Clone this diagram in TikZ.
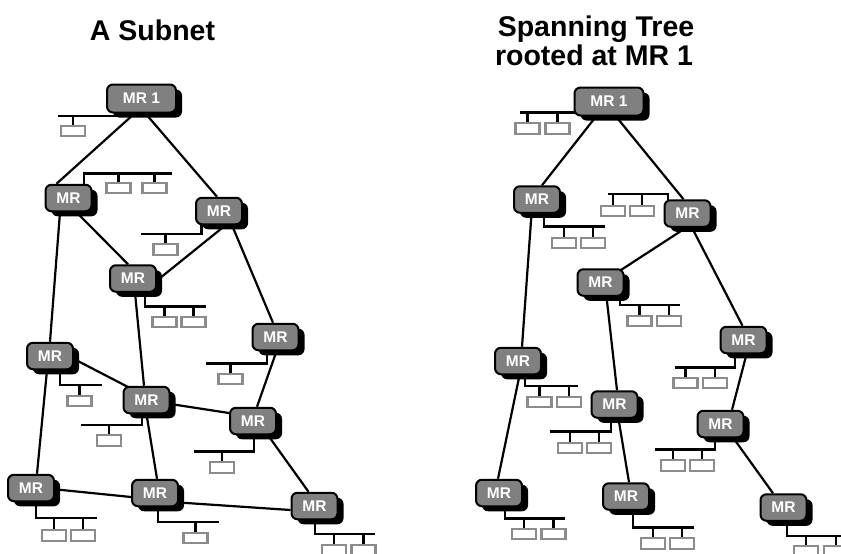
\documentclass[tikz,border=0pt]{standalone}
\usepackage{fontspec}
\setmainfont{Liberation Sans}
\usetikzlibrary{shadows}
\pgfdeclarelayer{background}
\pgfsetlayers{background,main}
\tikzset{
  router/.style={rounded corners=6pt, draw=black, line width=2pt, fill=routergray,
    minimum width=46pt, minimum height=26.5pt, inner sep=0pt, text=white,
    font=\bfseries\fontsize{15.5}{17}\selectfont,
    drop shadow={shadow xshift=6pt, shadow yshift=-5pt, fill=black, opacity=1}},
  rootrouter/.style={router, minimum width=69pt, minimum height=28pt},
  host/.style={draw=hostgray, line width=2.2pt, fill=white, minimum width=24pt,
    minimum height=10.5pt, inner sep=0pt},
  link/.style={draw=black, line width=2.2pt},
  lan/.style={draw=black, line width=2.7pt},
  heading/.style={font=\bfseries\fontsize{28.5}{32}\selectfont, anchor=base, inner sep=0pt}
}
\definecolor{routergray}{RGB}{128,128,128}
\definecolor{hostgray}{RGB}{140,140,140}
\begin{document}
\begin{tikzpicture}[x=1pt, y=-1pt]
\useasboundingbox (0,0) rectangle (841,554);

% ---------- headings ----------
\node[heading] (t1) at (152.5,40) {A Subnet};
\node[heading] (t2) at (596,36) {Spanning Tree};
\node[heading] (t3) at (594,65) {rooted at MR 1};

% ---------- subnet: routers ----------
\node[rootrouter] (A1) at (141.5,98.5) {MR 1};
\node[router] (A2) at (68.5,198) {MR};
\node[router] (A3) at (219,211) {MR};
\node[router] (A4) at (133,278.5) {MR};
\node[router] (A5) at (275.5,337) {MR};
\node[router] (A6) at (50,356) {MR};
\node[router] (A7) at (146.5,400) {MR};
\node[router] (A8) at (253,421) {MR};
\node[router] (A9) at (31,488) {MR};
\node[router] (A10) at (155,493) {MR};
\node[router] (A11) at (314.5,506) {MR};

% ---------- spanning tree: routers ----------
\node[rootrouter] (B1) at (609,101.5) {MR 1};
\node[router] (B2) at (537,199.5) {MR};
\node[router] (B3) at (687.5,213.5) {MR};
\node[router] (B4) at (600.5,282.5) {MR};
\node[router] (B5) at (743.5,340) {MR};
\node[router] (B6) at (518,361) {MR};
\node[router] (B7) at (614.5,404.5) {MR};
\node[router] (B8) at (720.5,424) {MR};
\node[router] (B9) at (499,493) {MR};
\node[router] (B10) at (626,496.5) {MR};
\node[router] (B11) at (783.5,507.5) {MR};

% ---------- hosts ----------
\node[host] (A1h1) at (73,131) {};
\node[host] (A2h1) at (118.5,188) {};
\node[host] (A2h2) at (154.5,188) {};
\node[host] (A3h1) at (165.5,249.5) {};
\node[host] (A4h1) at (164.5,322) {};
\node[host] (A4h2) at (193.5,322) {};
\node[host] (A5h1) at (230.5,379) {};
\node[host] (A6h1) at (79.5,401) {};
\node[host] (A7h1) at (109,440.5) {};
\node[host] (A8h1) at (222,467.5) {};
\node[host] (A9h1) at (54,535.5) {};
\node[host] (A9h2) at (83,535.5) {};
\node[host] (A10h1) at (195.5,538) {};
\node[host] (A11h1) at (334,550) {};
\node[host] (A11h2) at (363.5,550) {};

\node[host] (B1h1) at (527.5,128.5) {};
\node[host] (B1h2) at (557.5,128.5) {};
\node[host] (B2h1) at (564,243) {};
\node[host] (B2h2) at (593,243) {};
\node[host] (B3h1) at (613,211) {};
\node[host] (B3h2) at (642,211) {};
\node[host] (B4h1) at (639.5,321) {};
\node[host] (B4h2) at (669,321) {};
\node[host] (B5h1) at (685.5,383) {};
\node[host] (B5h2) at (715,383) {};
\node[host] (B6h1) at (539.5,402) {};
\node[host] (B6h2) at (569,402) {};
\node[host] (B7h1) at (570,448) {};
\node[host] (B7h2) at (599,448) {};
\node[host] (B8h1) at (673,465.5) {};
\node[host] (B8h2) at (702,465.5) {};
\node[host] (B9h1) at (524,534) {};
\node[host] (B9h2) at (553.5,534) {};
\node[host] (B10h1) at (653,543.5) {};
\node[host] (B10h2) at (682,543.5) {};
\node[host] (B11h1) at (806,551) {};
\node[host] (B11h2) at (836,551) {};

% ---------- bus corners and ends ----------
\coordinate (a1s) at (118,116);   \coordinate (a1e) at (58,116);
\coordinate (a2s) at (84,173.5);  \coordinate (a2e) at (172,173.5);
\coordinate (a3s) at (201.7,234); \coordinate (a3e) at (141,234);
\coordinate (a4s) at (145,306.7); \coordinate (a4e) at (206,306.7);
\coordinate (a5s) at (267,363.3); \coordinate (a5e) at (206,363.3);
\coordinate (a6s) at (60,385);    \coordinate (a6e) at (102,385);
\coordinate (a7s) at (142,425);   \coordinate (a7e) at (81,425);
\coordinate (a8s) at (254,451.7); \coordinate (a8e) at (194,451.7);
\coordinate (a9s) at (36,518);    \coordinate (a9e) at (97,518);
\coordinate (a10s) at (158,522);  \coordinate (a10e) at (219,522);
\coordinate (a11s) at (315,534);  \coordinate (a11e) at (375,534);

\coordinate (b1s) at (582,112.7); \coordinate (b1e) at (520,112.7);
\coordinate (b2s) at (544,226.7); \coordinate (b2e) at (605,226.7);
\coordinate (b3s) at (668,194);   \coordinate (b3e) at (608,194);
\coordinate (b4s) at (620,305);   \coordinate (b4e) at (680,305);
\coordinate (b5s) at (735,367.3); \coordinate (b5e) at (675,367.3);
\coordinate (b6s) at (525,386);   \coordinate (b6e) at (578,386);
\coordinate (b7s) at (611,431.7); \coordinate (b7e) at (550,431.7);
\coordinate (b8s) at (715,449.3); \coordinate (b8e) at (655,449.3);
\coordinate (b9s) at (505,518.3); \coordinate (b9e) at (565,518.3);
\coordinate (b10s) at (633,527.3);\coordinate (b10e) at (694,527.3);
\coordinate (b11s) at (787,536);  \coordinate (b11e) at (845,536);

\begin{pgfonlayer}{background}
% ---------- subnet links ----------
\draw[link] ([xshift=-7pt]A1.south) -- ([xshift=-12pt]A2.north);
\draw[link] ([xshift=4pt]A1.south) -- ([xshift=-2pt]A3.north);
\draw[link] ([xshift=8pt]A2.south) -- ([xshift=-5pt]A4.north);
\draw[link] ([xshift=6.5pt]A3.south) -- ([yshift=-2pt]A4.east);
\draw[link] ([xshift=13pt]A3.south) -- ([xshift=-2.5pt]A5.north);
\draw[link] ([xshift=-8.5pt]A2.south) -- (A6.north);
\draw[link] ([xshift=2pt]A4.south) -- ([xshift=-2.5pt]A7.north);
\draw[link] ([xshift=1pt]A5.south) -- ([xshift=4pt]A8.north);
\draw[link] ([yshift=-3pt]A6.east) -- ([xshift=7pt,yshift=-2pt]A7.north west);
\draw[link] ([yshift=-4pt]A7.east) -- ([yshift=8pt]A8.west);
\draw[link] (A7.south) -- ([xshift=2pt]A10.north);
\draw[link] ([xshift=-3pt]A6.south) -- ([xshift=6pt]A9.north);
\draw[link] ([xshift=15pt]A8.south) -- ([xshift=-6pt]A11.north);
\draw[link] ([yshift=-1.3pt]A9.east) -- ([yshift=-4pt]A10.west);
\draw[link] ([yshift=-9.5pt]A10.east) -- ([yshift=-4pt]A11.west);

% ---------- spanning tree links ----------
\draw[link] ([xshift=-13pt]B1.south) -- ([xshift=5pt]B2.north);
\draw[link] ([xshift=7pt]B1.south) -- ([xshift=-4pt]B3.north);
\draw[link] ([xshift=-5.5pt]B2.south) -- ([xshift=4pt]B6.north);
\draw[link] ([xshift=-1.5pt]B3.south) -- ([xshift=-5.5pt,yshift=-3pt]B4.north east);
\draw[link] ([xshift=4.5pt]B3.south) -- ([xshift=-1pt]B5.north);
\draw[link] ([xshift=6pt]B4.south) -- ([xshift=2.5pt]B7.north);
\draw[link] ([xshift=3pt]B5.south) -- ([xshift=11.5pt]B8.north);
\draw[link] ([xshift=1.5pt]B6.south) -- ([xshift=-1pt]B9.north);
\draw[link] ([xshift=4pt]B7.south) -- ([xshift=3pt]B10.north);
\draw[link] ([xshift=13pt]B8.south) -- ([xshift=-10.5pt]B11.north);

% ---------- LAN buses ----------
\draw[lan] (a1s) -- (a1e);
\draw[lan] (A2.center -| a2s) -- (a2s) -- (a2e);
\draw[lan] (A3.center -| a3s) -- (a3s) -- (a3e);
\draw[lan] (A4.center -| a4s) -- (a4s) -- (a4e);
\draw[lan] (A5.center -| a5s) -- (a5s) -- (a5e);
\draw[lan] (A6.center -| a6s) -- (a6s) -- (a6e);
\draw[lan] (A7.center -| a7s) -- (a7s) -- (a7e);
\draw[lan] (A8.center -| a8s) -- (a8s) -- (a8e);
\draw[lan] (A9.center -| a9s) -- (a9s) -- (a9e);
\draw[lan] (A10.center -| a10s) -- (a10s) -- (a10e);
\draw[lan] (A11.center -| a11s) -- (a11s) -- (a11e);

\draw[lan] (b1s) -- (b1e);
\draw[lan] (B2.center -| b2s) -- (b2s) -- (b2e);
\draw[lan] (B3.center -| b3s) -- (b3s) -- (b3e);
\draw[lan] (B4.center -| b4s) -- (b4s) -- (b4e);
\draw[lan] (B5.center -| b5s) -- (b5s) -- (b5e);
\draw[lan] (B6.center -| b6s) -- (b6s) -- (b6e);
\draw[lan] (B7.center -| b7s) -- (b7s) -- (b7e);
\draw[lan] (B8.center -| b8s) -- (b8s) -- (b8e);
\draw[lan] (B9.center -| b9s) -- (b9s) -- (b9e);
\draw[lan] (B10.center -| b10s) -- (b10s) -- (b10e);
\draw[lan] (B11.center -| b11s) -- (b11s) -- (b11e);

% ---------- host drops ----------
\foreach \h/\b in {A1h1/a1s, A2h1/a2s, A2h2/a2s, A3h1/a3s, A4h1/a4s, A4h2/a4s,
    A5h1/a5s, A6h1/a6s, A7h1/a7s, A8h1/a8s, A9h1/a9s, A9h2/a9s, A10h1/a10s,
    A11h1/a11s, A11h2/a11s,
    B1h1/b1s, B1h2/b1s, B2h1/b2s, B2h2/b2s, B3h1/b3s, B3h2/b3s, B4h1/b4s, B4h2/b4s,
    B5h1/b5s, B5h2/b5s, B6h1/b6s, B6h2/b6s, B7h1/b7s, B7h2/b7s, B8h1/b8s, B8h2/b8s,
    B9h1/b9s, B9h2/b9s, B10h1/b10s, B10h2/b10s, B11h1/b11s, B11h2/b11s}
  \draw[lan] (\h.center) -- (\h.center |- \b);
\end{pgfonlayer}
\end{tikzpicture}
\end{document}
